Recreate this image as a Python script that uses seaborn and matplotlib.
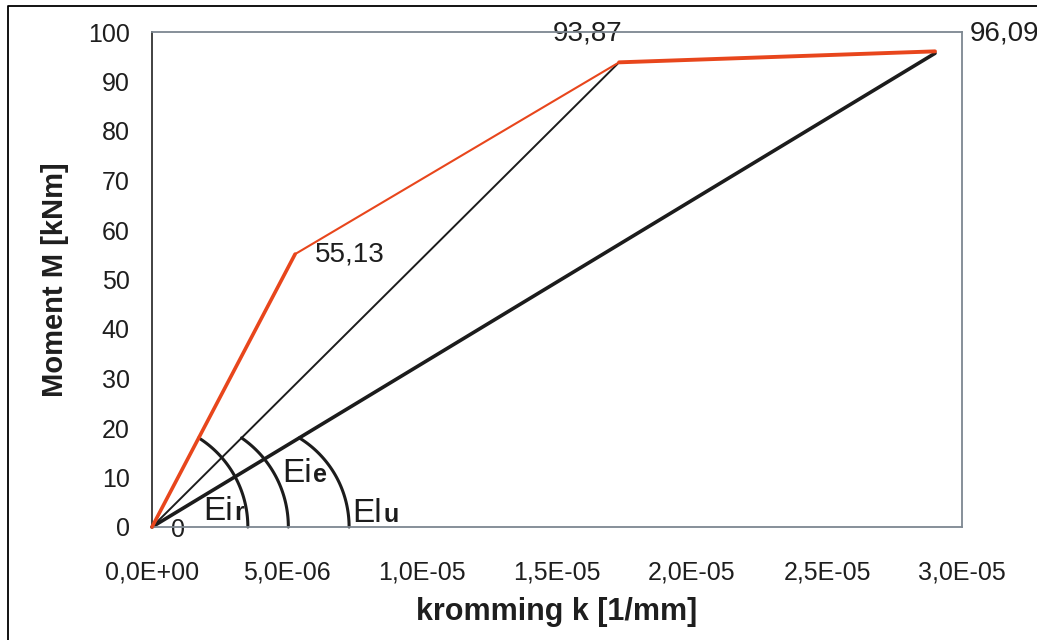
import numpy as np
import pandas as pd
import matplotlib
matplotlib.use("Agg")
import matplotlib.pyplot as plt
import seaborn as sns
from matplotlib.ticker import FuncFormatter, FixedLocator
from matplotlib.lines import Line2D
from matplotlib import font_manager

# ---------------- data ----------------
curve_k = [0.0, 5.3e-6, 1.73e-5, 2.9e-5]          # kromming k [1/mm]
curve_M = [0.0, 55.13, 93.87, 96.09]              # moment M [kNm]
curve_labels = ["0", "55,13", "93,87", "96,09"]
secant_k = [1.73e-5, 2.9e-5]                      # secant lines from origin
secant_M = [93.87, 95.7]
arc_end_k = [3.55e-6, 5.05e-6, 7.3e-6]            # where the angle arcs meet the k-axis
arc_top_M = 18.0                                  # where the arcs meet their line
arc_names = [("Ei", "r"), ("Ei", "e"), ("El", "u")]
arc_label_k = [1.89e-6, 4.81e-6, 7.41e-6]
arc_label_M = [1.4, 9.1, 1.0]
x_ticks = [0.0, 5e-6, 1e-5, 1.5e-5, 2e-5, 2.5e-5, 3e-5]
y_ticks = [0, 10, 20, 30, 40, 50, 60, 70, 80, 90, 100]

# ---------------- style ----------------
sns.set_theme(style="white")
plt.rcParams["font.family"] = ["Liberation Sans", "DejaVu Sans"]
installed = {f.name for f in font_manager.fontManager.ttflist}
narrow = "Liberation Sans Narrow" if "Liberation Sans Narrow" in installed else "Liberation Sans"

ORANGE = "#E8461C"
BLACK = "#1c1c1c"
TXT = "#1e1e1e"

fig = plt.figure(figsize=(10.37, 6.40), dpi=100)
ax = fig.add_axes([152 / 1037, 1 - 527 / 640, 810 / 1037, 495 / 640])
ax.set_xlim(0, 3e-5)
ax.set_ylim(0, 100)

# secant lines (black)
sec_widths = [1.4, 2.6]
for k, m, w in zip(secant_k, secant_M, sec_widths):
    df = pd.DataFrame({"k": [0.0, k], "M": [0.0, m]})
    sns.lineplot(data=df, x="k", y="M", color=BLACK, lw=w, sort=False,
                 estimator=None, ax=ax, zorder=2, clip_on=False)

# moment-curvature curve (orange), segment widths differ
seg_widths = [2.6, 1.5, 2.8]
for i, w in enumerate(seg_widths):
    df = pd.DataFrame({"k": curve_k[i:i + 2], "M": curve_M[i:i + 2]})
    sns.lineplot(data=df, x="k", y="M", color=ORANGE, lw=w, sort=False,
                 estimator=None, ax=ax, zorder=3, clip_on=False,
                 solid_capstyle="round")

# point labels
offsets = [(14, -2), (14, 0), (-23, 21), (25, 13)]
has = ["left", "left", "center", "left"]
sizes = [18, 20, 20, 20]
for k, m, lab, off, ha, fs in zip(curve_k, curve_M, curve_labels, offsets, has, sizes):
    ax.annotate(lab, xy=(k, m), xytext=off, textcoords="offset points",
                ha=ha, va="center", fontsize=fs, color=TXT, annotation_clip=False,
                zorder=1)

# angle arcs (circular in display space, tangent vertical at the axis)
line_slopes = [curve_M[1] / curve_k[1], secant_M[0] / secant_k[0], secant_M[1] / secant_k[1]]
for slope, kend in zip(line_slopes, arc_end_k):
    s = ax.transData.transform((arc_top_M / slope, arc_top_M))
    q = ax.transData.transform((kend, 0.0))
    dy = s[1] - q[1]
    cx = (q[0] ** 2 - s[0] ** 2 - dy ** 2) / (2 * (q[0] - s[0]))
    r = q[0] - cx
    t0 = np.arctan2(dy, s[0] - cx)
    t = np.linspace(t0, 0, 60)
    pts = np.column_stack([cx + r * np.cos(t), q[1] + r * np.sin(t)])
    dpts = ax.transData.inverted().transform(pts)
    ax.plot(dpts[:, 0], dpts[:, 1], color=BLACK, lw=2.2, zorder=2, clip_on=False)

# arc labels
fig.canvas.draw()
for (main, sub), k, m in zip(arc_names, arc_label_k, arc_label_M):
    t = ax.text(k, m, main, fontsize=24, family=[narrow, "DejaVu Sans"],
                color=BLACK, ha="left", va="baseline", zorder=4)
    fig.canvas.draw()
    bb = t.get_window_extent()
    base = ax.transData.transform((k, m))[1]
    ax.annotate(sub, xy=(bb.x1, base), xycoords="figure pixels",
                xytext=(1, 0), textcoords="offset points",
                fontsize=18, fontweight="bold", family=[narrow, "DejaVu Sans"],
                color=BLACK, ha="left", va="baseline", zorder=4)

# axes, ticks
ax.xaxis.set_major_locator(FixedLocator(x_ticks))
ax.yaxis.set_major_locator(FixedLocator(y_ticks))
ax.xaxis.set_major_formatter(FuncFormatter(lambda v, p: f"{v:.1E}".replace(".", ",")))
ax.yaxis.set_major_formatter(FuncFormatter(lambda v, p: f"{v:.0f}"))
ax.tick_params(axis="both", which="major", direction="out", labelsize=18,
               labelcolor=TXT, color="#333333", width=1.0)
ax.tick_params(axis="x", length=5, pad=19)
ax.tick_params(axis="y", length=6, pad=10)
ax.grid(False)
for side in ["top", "right", "bottom"]:
    ax.spines[side].set_color("#7d8791")
    ax.spines[side].set_linewidth(1.3)
ax.spines["left"].set_color("#333333")
ax.spines["left"].set_linewidth(1.3)

ax.set_xlabel("kromming k [1/mm]", fontsize=22, fontweight="bold", color=TXT)
ax.set_ylabel("Moment M [kNm]", fontsize=21, fontweight="bold", color=TXT)
ax.xaxis.set_label_coords(0.5, -(612 - 527) / 495)
ax.xaxis.label.set_va("center")
ax.yaxis.set_label_coords((55 - 152) / 810, 0.5)
ax.yaxis.label.set_va("center")

# outer chart border (only left and top visible in the crop)
fig.add_artist(Line2D([8 / 1037, 8 / 1037, 1.05], [-0.05, 1 - 6 / 640, 1 - 6 / 640],
                      transform=fig.transFigure, color="black", lw=1.3))

fig.savefig("out.png", dpi=100)
